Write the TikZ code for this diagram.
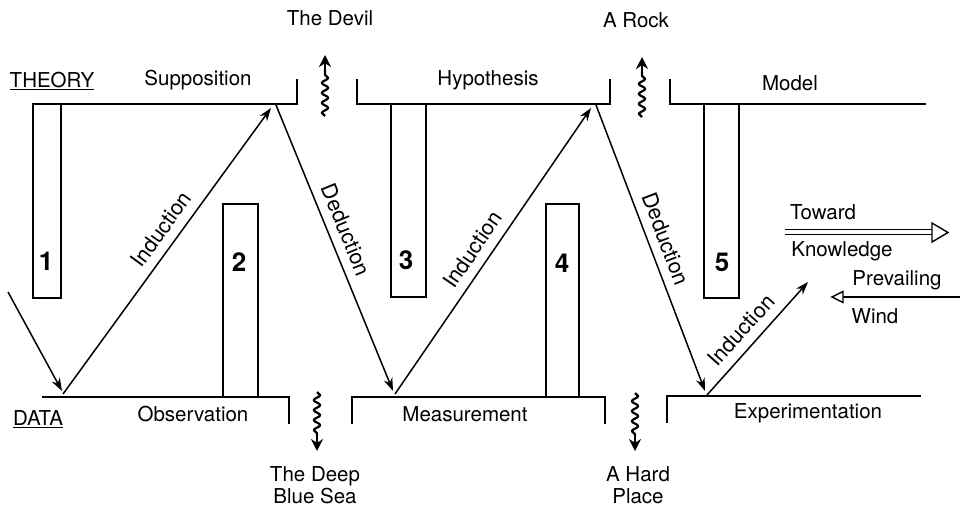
\documentclass[tikz,border=0pt]{standalone}
\usepackage{fontspec}
\setmainfont{TeX Gyre Heros}
\usetikzlibrary{arrows.meta,decorations.pathmorphing}
\begin{document}
\begin{tikzpicture}[x=1pt,y=-1pt,
  every node/.style={inner sep=1pt},
  txt/.style={font=\fontsize{20.5}{21.5}\selectfont, align=center},
  num/.style={font=\fontsize{26}{28}\selectfont\bfseries},
  ln/.style={line width=1.8pt, line cap=rect},
  arr/.style={line width=1.5pt, -{Stealth[length=13pt,width=9pt]}},
  wavy/.style={line width=2.2pt, line join=round, decorate,
    decoration={snake, amplitude=3.2pt, segment length=10pt}},
  wtip/.style={line width=2pt, -{Stealth[length=12pt,width=12pt]}},
  lab/.style={font=\fontsize{21.5}{22}\selectfont, sloped, above=8pt}
]
\useasboundingbox (0,0) rectangle (965,512);
% theory line
\draw[ln] (297,80) -- (297,104) -- (33,104) -- (33,298) -- (61,298) -- (61,104);
\draw[ln] (357,80) -- (357,104) -- (610,104) -- (610,80);
\draw[ln] (391,104) -- (391,297) -- (426,297) -- (426,104);
\draw[ln] (670,80) -- (670,104) -- (925,104);
\draw[ln] (704,104) -- (704,298) -- (739,298) -- (739,104);
% data line
\draw[ln] (43,397) -- (289,397) -- (289,423);
\draw[ln] (223,397) -- (223,204) -- (258,204) -- (258,397);
\draw[ln] (352,423) -- (352,397) -- (605,397) -- (605,423);
\draw[ln] (546,397) -- (546,204) -- (579,204) -- (579,397);
\draw[ln] (667,422) -- (667,396) -- (920,396);
% numbers
\node[num] (n1) at (46,261) {1};
\node[num] (n2) at (239,262) {2};
\node[num] (n3) at (406,260) {3};
\node[num] (n4) at (562,263) {4};
\node[num] (n5) at (722,262) {5};
% texts
\node[txt] (theory) at (52,81) {\underline{THEORY}};
\node[txt] (supp) at (198,80) {Supposition};
\node[txt] (devil) at (330,18) {The Devil};
\node[txt] (hypo) at (488,80) {Hypothesis};
\node[txt] (rock) at (636,20) {A Rock};
\node[txt] (model) at (790,83) {Model};
\node[txt] (data) at (38,419) {\underline{DATA}};
\node[txt] (obs) at (193,414) {Observation};
\node[txt] (meas) at (465,414) {Measurement};
\node[txt] (expt) at (808,413) {Experimentation};
\node[txt] (sea) at (315,485) {The Deep\\Blue Sea};
\node[txt] (hard) at (638,485) {A Hard\\Place};
\node[txt] (toward) at (823,212) {Toward};
\node[txt] (know) at (842,251) {Knowledge};
\node[txt] (prev) at (897,280) {Prevailing};
\node[txt] (wind) at (875,316) {Wind};
% zigzag coordinates
\coordinate (s0) at (8,292);
\coordinate (o1) at (62,391);
\coordinate (o1s) at (63,394);
\coordinate (p1) at (271,108);
\coordinate (p1s) at (276,105);
\coordinate (m1) at (393,391);
\coordinate (m1s) at (395,394);
\coordinate (p2) at (591,108);
\coordinate (p2s) at (596,105);
\coordinate (e1) at (705,391);
\coordinate (e1s) at (707,395);
\coordinate (e2) at (808,282);
\draw[arr] (s0) -- (o1);
\draw[arr] (o1s) -- node[lab, pos=0.54] {Induction} (p1);
\draw[arr] (p1s) -- node[lab, pos=0.46] {Deduction} (m1);
\draw[arr] (m1s) -- node[lab, pos=0.47] {Induction} (p2);
\draw[arr] (p2s) -- node[lab, pos=0.49] {Deduction} (e1);
\draw[arr] (e1s) -- node[lab, pos=0.47] {Induction} (e2);
% wavy arrows
\coordinate (w1a) at (325,116); \coordinate (w1c) at (325,70); \coordinate (w1b) at (325,55);
\coordinate (w2a) at (642,117); \coordinate (w2c) at (642,72); \coordinate (w2b) at (642,57);
\coordinate (w3a) at (317,392); \coordinate (w3c) at (317,436); \coordinate (w3b) at (317,451);
\coordinate (w4a) at (635,393); \coordinate (w4c) at (635,436); \coordinate (w4b) at (635,451);
\draw[wavy] (w1a) -- (w1c);
\draw[wtip] (w1c) -- (w1b);
\draw[wavy] (w2a) -- (w2c);
\draw[wtip] (w2c) -- (w2b);
\draw[wavy] (w3a) -- (w3c);
\draw[wtip] (w3c) -- (w3b);
\draw[wavy] (w4a) -- (w4c);
\draw[wtip] (w4c) -- (w4b);
% toward knowledge double arrow
\coordinate (k0) at (785,232);
\coordinate (k1) at (932,232);
\coordinate (k2) at (948,232.5);
\draw[line width=1.4pt] ([yshift=-2.4pt]k0) -- ([yshift=-2.4pt]k1);
\draw[line width=1.4pt] ([yshift=2.4pt]k0) -- ([yshift=2.4pt]k1);
\draw[line width=1.4pt, fill=white, line join=miter] (932,223) -- (k2) -- (932,242) -- cycle;
% prevailing wind arrow
\coordinate (pw0) at (960,297);
\coordinate (pw1) at (843,297);
\coordinate (pw2) at (832,297);
\draw[line width=1.5pt] (pw0) -- (pw1);
\draw[line width=1.4pt, fill=white] (843,291.5) -- (pw2) -- (843,302.5) -- cycle;
\end{tikzpicture}
\end{document}
